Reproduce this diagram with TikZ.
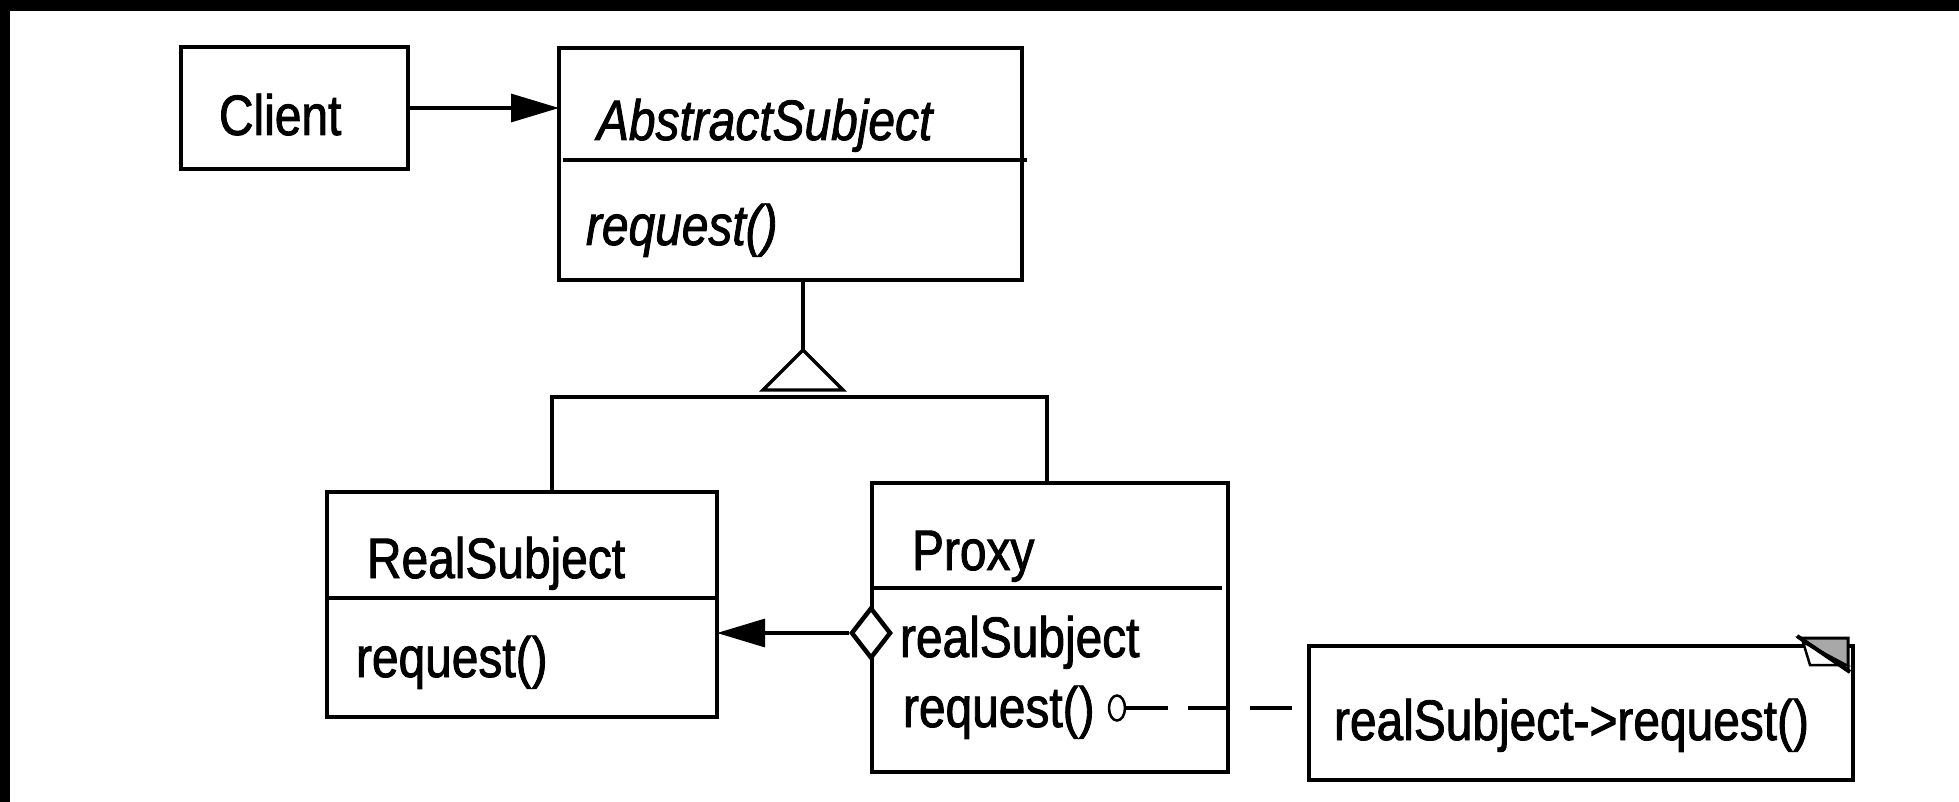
\documentclass[tikz,border=0pt]{standalone}
\usepackage{fontspec}
\setmainfont{Liberation Sans}[FakeStretch=0.84,FakeBold=1.5]
\usetikzlibrary{arrows.meta,shapes.geometric}
\definecolor{eargray}{HTML}{A8A8A8}

\begin{document}
\begin{tikzpicture}[x=1pt,y=-1pt,
  box/.style={draw, line width=3.6pt, rectangle, inner sep=0pt, outer sep=0pt},
  rule/.style={line width=3.6pt},
  conn/.style={line width=3.2pt},
  lbl/.style={inner sep=0pt, outer sep=0pt, anchor=base west, font=\fontsize{57}{68}\selectfont},
  ilbl/.style={lbl, font=\fontsize{57}{68}\selectfont\itshape},
  head/.style={-{Triangle[length=48pt,width=28pt]}},
]
\useasboundingbox (0,0) rectangle (1959,802);
\fill[white] (0,0) rectangle (1959,802);
% frame bands
\fill[black] (0,0) rectangle (1959,11);
\fill[black] (0,0) rectangle (10,802);

% classes
\node[box, minimum width=227pt, minimum height=122pt] (client) at (294.5,108) {};
\node[lbl] (clientname) at (219,135) {Client};

\node[box, minimum width=463pt, minimum height=232pt] (abs) at (790.5,164) {};
\draw[rule] (563,160) -- (1027,160);
\node[ilbl] (absname) at (597,140) {AbstractSubject};
\node[ilbl] (absop) at (586,245) {request()};

\node[box, minimum width=390pt, minimum height=225pt] (real) at (522,604.5) {};
\draw[rule] (real.west |- 0,598) -- (real.east |- 0,598);
\node[lbl] (realname) at (367,578) {RealSubject};
\node[lbl] (realop) at (356,677) {request()};

\node[box, minimum width=356pt, minimum height=289pt] (proxy) at (1050,627.5) {};
\draw[rule] (proxy.west |- 0,588) -- (1222,588);
\node[lbl] (proxyname) at (912,570) {Proxy};
\node[lbl] (proxyattr) at (900,657) {realSubject};
\node[lbl] (proxyop) at (903,727) {request()};

% note with folded corner
\node[box, minimum width=544pt, minimum height=134pt] (note) at (1581,713) {};
\node[lbl] (notetext) at (1334,740) {realSubject->request()};
\fill[eargray, draw=black, line width=3pt, line join=miter] (1800,638) -- (1848,638) -- (1848,670) -- cycle;
\filldraw[fill=white, draw=black, line width=2.5pt] (1803,642) -- (1810,665) -- (1846,665) -- cycle;
\draw[line width=4pt] (1797,636) -- (1850,672);

% client association
\draw[conn, head] (client.east) -- (client.east -| abs.west);

% inheritance
\coordinate (apex) at (803,350);
\coordinate (jl) at (552,397);
\coordinate (jr) at (1047,397);
\draw[conn] (abs.south -| apex) -- (apex);
\draw[conn, fill=white, line join=miter] (apex) -- ++(-40,40) -- ++(80,0) -- cycle;
\draw[conn] (real.north -| jl) -- (jl) -- (jr) -- (proxy.north -| jr);

% aggregation
\node[diamond, draw, fill=white, line width=4.5pt, inner sep=0pt, minimum width=40pt, minimum height=51pt] (dia) at (871,633) {};
\draw[conn, head] (dia.west) -- (dia.west -| real.east);

% implementation note link
\node[ellipse, draw, line width=2.5pt, inner sep=0pt, minimum width=16pt, minimum height=25pt] (knob) at (1117,708) {};
\draw[line width=3.5pt, dash pattern=on 42pt off 20pt] (knob.east) -- (knob.east -| note.west);
\end{tikzpicture}
\end{document}
